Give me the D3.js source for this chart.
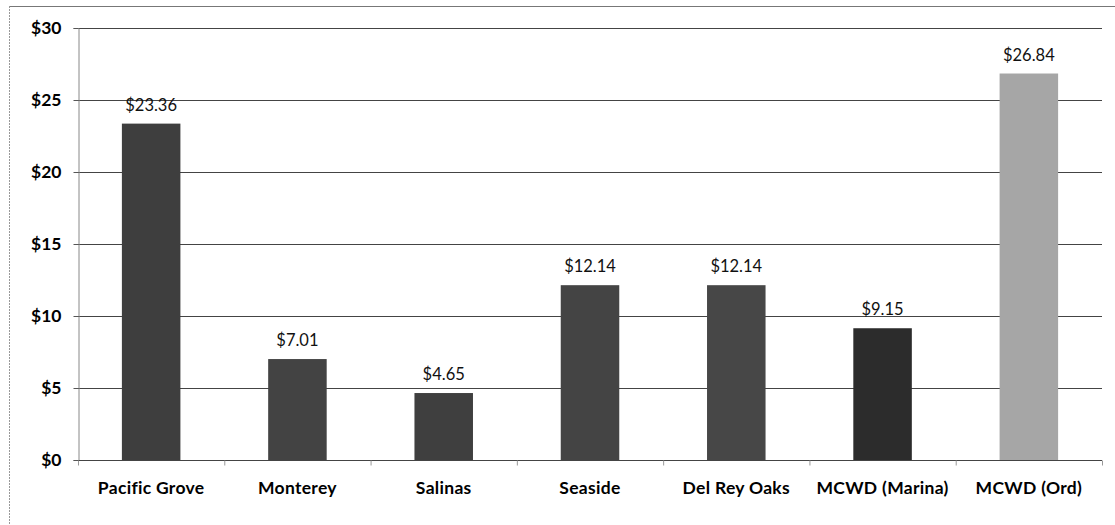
<!DOCTYPE html>
<html>
<head>
<meta charset="utf-8">
<script src="https://cdn.jsdelivr.net/npm/d3@7"></script>
<style>
  body { margin: 0; background: #fff; }
  svg { display: block; }
  .tick text { font-family: Lato, "Open Sans", sans-serif; }
</style>
</head>
<body>
<div id="chart"></div>
<script>
var categories = ["Pacific Grove", "Monterey", "Salinas", "Seaside", "Del Rey Oaks", "MCWD (Marina)", "MCWD (Ord)"];
var rates = [23.36, 7.01, 4.65, 12.14, 12.14, 9.15, 26.84];
var yTicks = [0, 5, 10, 15, 20, 25, 30];

// bar shades, last one is the light one
var barColors = ["#3e3e3e", "#434343", "#3f3f3f", "#444444", "#474747", "#2c2c2c", "#a6a6a6"];

var width = 1115,
    height = 525;

var margin = {top: 28, right: 13, bottom: 65, left: 78};

var svg = d3.select("#chart").append("svg")
    .attr("width", width)
    .attr("height", height);

// outer frame (only top and left show in the scan)
svg.append("line")
    .attr("x1", 9).attr("x2", width).attr("y1", 6.5).attr("y2", 6.5)
    .attr("stroke", "#777").attr("stroke-width", 1);
svg.append("line")
    .attr("x1", 9.5).attr("x2", 9.5).attr("y1", 6).attr("y2", height)
    .attr("stroke", "#999").attr("stroke-width", 1)
    .attr("stroke-dasharray", "2,1");

var x = d3.scaleBand()
    .domain(categories)
    .range([margin.left, width - margin.right])
    .paddingInner(0.6)
    .paddingOuter(0.3);

var y = d3.scaleLinear()
    .domain([0, 30])
    .range([height - margin.bottom, margin.top]);

var g = svg.append("g");

// gridlines
g.selectAll("line.grid")
    .data(yTicks.slice(1))
    .enter()
    .append("line")
    .attr("class", "grid")
    .attr("x1", margin.left)
    .attr("x2", width - margin.right)
    .attr("y1", function(d) { return Math.round(y(d)) + 0.5; })
    .attr("y2", function(d) { return Math.round(y(d)) + 0.5; })
    .attr("stroke", "#444")
    .attr("stroke-width", 1);

// y axis
var yAxis = svg.append("g")
    .attr("transform", "translate(" + (margin.left + 0.5) + ",0)")
    .call(d3.axisLeft(y)
        .tickValues(yTicks)
        .tickSize(5)
        .tickFormat(function(d) { return "$" + d; }));
yAxis.select(".domain").attr("stroke", "#888");
yAxis.selectAll(".tick line").attr("stroke", "#555");
yAxis.selectAll(".tick text")
    .attr("x", -17)
    .style("font-size", "17.5px")
    .style("font-weight", "bold")
    .attr("fill", "#000");

// bars
g.selectAll("rect.bar")
    .data(rates)
    .enter()
    .append("rect")
    .attr("class", "bar")
    .attr("x", function(d, i) { return x(categories[i]); })
    .attr("y", function(d) { return y(d); })
    .attr("width", x.bandwidth())
    .attr("height", function(d) { return y(0) - y(d); })
    .attr("fill", function(d, i) { return barColors[i]; });

// value labels
g.selectAll("text.val")
    .data(rates)
    .enter()
    .append("text")
    .attr("class", "val")
    .attr("x", function(d, i) { return x(categories[i]) + x.bandwidth() / 2; })
    .attr("y", function(d) { return y(d) - 13; })
    .attr("text-anchor", "middle")
    .style("font-family", "Lato, 'Open Sans', sans-serif")
    .style("font-size", "16.5px")
    .attr("fill", "#111")
    .text(function(d) { return "$" + d.toFixed(2); });

// x axis with ticks between categories
var xAxisG = svg.append("g")
    .attr("transform", "translate(0," + (y(0) + 0.5) + ")");
xAxisG.append("line")
    .attr("x1", margin.left)
    .attr("x2", width - margin.right)
    .attr("stroke", "#444");
var step = x.step();
xAxisG.selectAll("line.tk")
    .data(d3.range(categories.length + 1))
    .enter()
    .append("line")
    .attr("class", "tk")
    .attr("x1", function(i) { return margin.left + i * step + 0.5; })
    .attr("x2", function(i) { return margin.left + i * step + 0.5; })
    .attr("y1", 0)
    .attr("y2", 5)
    .attr("stroke", "#999");
xAxisG.selectAll("text")
    .data(categories)
    .enter()
    .append("text")
    .attr("x", function(d) { return x(d) + x.bandwidth() / 2; })
    .attr("y", 33)
    .attr("text-anchor", "middle")
    .style("font-family", "Lato, 'Open Sans', sans-serif")
    .style("font-size", "17.5px")
    .style("font-weight", "bold")
    .style("letter-spacing", "0.3px")
    .attr("fill", "#000")
    .text(function(d) { return d; });
</script>
</body>
</html>
